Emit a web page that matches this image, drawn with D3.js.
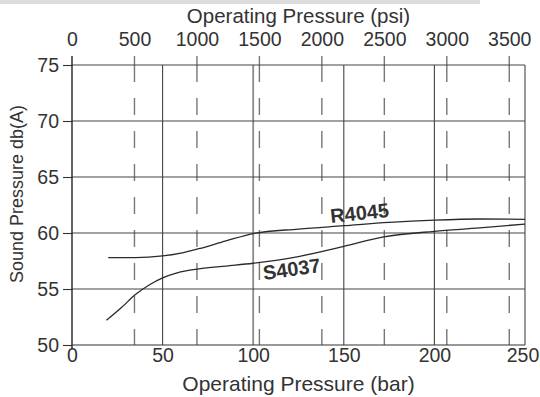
<!DOCTYPE html>
<html><head><meta charset="utf-8">
<script src="https://cdn.jsdelivr.net/npm/d3@7/dist/d3.min.js"></script>
<style>
html,body{margin:0;padding:0;background:#fff;}
svg{display:block;font-family:"Liberation Sans",Arial,sans-serif;}
</style></head>
<body><svg id="c" width="540" height="397"></svg>
<script>
const barTicks = [0, 50, 100, 150, 200, 250];
const psiTicks = [0, 500, 1000, 1500, 2000, 2500, 3000, 3500];
const dbTicks = [50, 55, 60, 65, 70, 75];
const seriesNames = ["R4045", "S4037"];
const r4045Bar = [20, 35, 50, 60, 70, 85, 100, 125, 150, 175, 200, 225, 250];
const r4045Db  = [57.8, 57.8, 57.95, 58.2, 58.6, 59.3, 59.95, 60.35, 60.65, 60.95, 61.15, 61.25, 61.22];
const s4037Bar = [19, 27, 35, 43, 50, 58, 70, 85, 100, 125, 150, 172, 200, 225, 250];
const s4037Db  = [52.2, 53.3, 54.5, 55.4, 56.0, 56.45, 56.8, 57.05, 57.3, 57.9, 58.8, 59.65, 60.15, 60.45, 60.8];
const PSI_PER_BAR = 14.5038;

const svg = d3.select("#c");
const L = 72, R = 525, T = 65, B = 345;
const x = d3.scaleLinear().domain([0, 250]).range([L, R]);
const xPsi = d3.scaleLinear().domain([0, 250 * PSI_PER_BAR]).range([L, R]);
const y = d3.scaleLinear().domain([50, 75]).range([B, T]);

// top gray band
svg.append("rect").attr("x", 0).attr("y", 0).attr("width", 480).attr("height", 4).attr("fill", "#dcdcdc");

// dashed psi grid lines
const g = svg.append("g");
psiTicks.filter(d => d > 0).forEach(d => {
  g.append("line").attr("x1", xPsi(d)).attr("x2", xPsi(d)).attr("y1", T).attr("y2", B)
    .attr("stroke", "#777").attr("stroke-width", 1.4).attr("stroke-dasharray", "17,16");
  g.append("line").attr("x1", xPsi(d)).attr("x2", xPsi(d)).attr("y1", T - 9).attr("y2", T)
    .attr("stroke", "#777").attr("stroke-width", 1.4);
});
// solid bar grid lines
barTicks.filter(d => d > 0).forEach(d => {
  g.append("line").attr("x1", x(d)).attr("x2", x(d)).attr("y1", T).attr("y2", B)
    .attr("stroke", d === 100 ? "#8a8a8a" : "#444").attr("stroke-width", d === 100 ? 1.8 : 1.1);
});
// horizontal grid lines
dbTicks.filter(d => d > 50).forEach(d => {
  g.append("line").attr("x1", L).attr("x2", R).attr("y1", y(d)).attr("y2", y(d))
    .attr("stroke", "#444").attr("stroke-width", 1.1);
});

// left axis
const yAxis = svg.append("g").attr("transform", `translate(${L},0)`)
  .call(d3.axisLeft(y).tickValues(dbTicks).tickSize(9).tickPadding(4));
yAxis.select(".domain").remove();
svg.append("line").attr("x1", L).attr("x2", L).attr("y1", T - 9).attr("y2", B + 4)
  .attr("stroke", "#222").attr("stroke-width", 1.4);
// bottom axis
const xAxis = svg.append("g").attr("transform", `translate(0,${B})`)
  .call(d3.axisBottom(x).tickValues(barTicks).tickSize(0).tickPadding(3));
xAxis.select(".domain").remove();
xAxis.selectAll(".tick").filter(d => d === 250).select("text").attr("dx", -2.5);
svg.append("line").attr("x1", L).attr("x2", R).attr("y1", B).attr("y2", B)
  .attr("stroke", "#333").attr("stroke-width", 1.1);
// top axis labels
const tAxis = svg.append("g").attr("transform", `translate(0,${T})`)
  .call(d3.axisTop(xPsi).tickValues(psiTicks).tickFormat(d3.format("d")).tickSize(0).tickPadding(19));
tAxis.select(".domain").remove();

svg.selectAll(".tick text").attr("font-size", 19.5).attr("fill", "#333")
  .attr("font-family", "'Liberation Sans',Arial,sans-serif");
svg.selectAll(".tick line").attr("stroke", "#333").attr("stroke-width", 1.1);

// axis titles
svg.append("text").attr("x", 298.5).attr("y", 23).attr("text-anchor", "middle")
  .attr("font-size", 20.5).attr("fill", "#333").text("Operating Pressure (psi)");
svg.append("text").attr("x", 298.5).attr("y", 391).attr("text-anchor", "middle")
  .attr("font-size", 21).attr("fill", "#333").text("Operating Pressure (bar)");
svg.append("text").attr("transform", "translate(23,194) rotate(-90)").attr("text-anchor", "middle")
  .attr("font-size", 18).attr("fill", "#333").text("Sound Pressure db(A)");

// curves
const line = d3.line().x(d => x(d[0])).y(d => y(d[1])).curve(d3.curveMonotoneX);
const series = [
  r4045Bar.map((b, i) => [b, r4045Db[i]]),
  s4037Bar.map((b, i) => [b, s4037Db[i]])
];
series.forEach(s => {
  svg.append("path").attr("d", line(s)).attr("fill", "none")
    .attr("stroke", "#2a2a2a").attr("stroke-width", 1.3);
});

// labels
svg.append("text").attr("transform", "translate(331,223) rotate(-6)")
  .attr("font-size", 20).attr("font-weight", "bold").attr("fill", "#333").text(seriesNames[0]);
svg.append("text").attr("transform", "translate(264,280) rotate(-8)")
  .attr("font-size", 20).attr("font-weight", "bold").attr("fill", "#333").text(seriesNames[1]);
</script></body></html>
